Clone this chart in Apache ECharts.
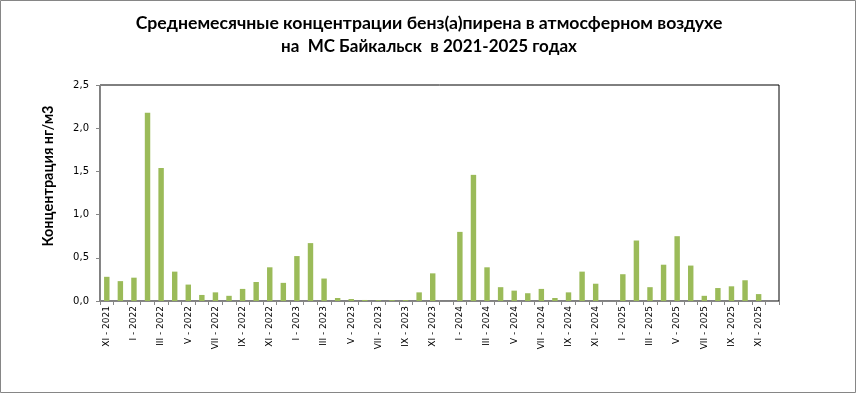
<!DOCTYPE html>
<html><head><meta charset="utf-8">
<script src="https://cdn.jsdelivr.net/npm/echarts@6/dist/echarts.min.js"></script>
<style>html,body{margin:0;padding:0;background:#fff}#c{width:856px;height:393px}</style>
</head><body><div id="c"></div>
<script>
const titleLine1 = 'Среднемесячные концентрации бенз(а)пирена в атмосферном воздухе';
const titleLine2 = 'на  МС Байкальск  в 2021-2025 годах';
const yAxisTitle = 'Концентрация нг/м3';
const categories = [
 'XI - 2021','XII - 2021',
 'I - 2022','II - 2022','III - 2022','IV - 2022','V - 2022','VI - 2022','VII - 2022','VIII - 2022','IX - 2022','X - 2022','XI - 2022','XII - 2022',
 'I - 2023','II - 2023','III - 2023','IV - 2023','V - 2023','VI - 2023','VII - 2023','VIII - 2023','IX - 2023','X - 2023','XI - 2023','XII - 2023',
 'I - 2024','II - 2024','III - 2024','IV - 2024','V - 2024','VI - 2024','VII - 2024','VIII - 2024','IX - 2024','X - 2024','XI - 2024','XII - 2024',
 'I - 2025','II - 2025','III - 2025','IV - 2025','V - 2025','VI - 2025','VII - 2025','VIII - 2025','IX - 2025','X - 2025','XI - 2025','XII - 2025'
];
const values = [
 0.28,0.23,
 0.27,2.18,1.54,0.34,0.19,0.07,0.10,0.06,0.14,0.22,0.39,0.21,
 0.52,0.67,0.26,0.035,0.023,0.012,0.01,0.01,0.01,0.10,0.32,null,
 0.80,1.46,0.39,0.16,0.12,0.09,0.14,0.035,0.10,0.34,0.20,null,
 0.31,0.70,0.16,0.42,0.75,0.41,0.06,0.15,0.17,0.24,0.08,null
];
const yTicks = {min:0, max:2.5, interval:0.5};

const chart = echarts.init(document.getElementById('c'), null, {renderer:'canvas'});
chart.setOption({
  animation:false,
  backgroundColor:'#fff',
  graphic:[
    {type:'rect', shape:{x:0.5,y:0.5,width:855,height:392}, style:{fill:'none',stroke:'#868686',lineWidth:1}, z:-1},
    {type:'text', x:429, y:24, scaleX:1.07, style:{text:titleLine1, align:'center', verticalAlign:'middle', font:'bold 16.5px Lato', fill:'#000'}},
    {type:'text', x:429, y:47, scaleX:1.03, style:{text:titleLine2, align:'center', verticalAlign:'middle', font:'bold 16.5px Lato', fill:'#000'}},
    {type:'text', x:48, y:176, rotation:Math.PI/2, style:{text:yAxisTitle, align:'center', verticalAlign:'middle', font:'bold 14.5px Lato', fill:'#000'}}
  ],
  grid:{left:100, right:77, top:85, bottom:92, show:true, borderColor:'#000', borderWidth:1, backgroundColor:'#fff'},
  xAxis:{
    type:'category', data:categories,
    axisLine:{lineStyle:{color:'#868686', width:1}},
    axisTick:{show:true, interval:0, length:4, lineStyle:{color:'#868686'}},
    axisLabel:{interval:1, rotate:90, fontFamily:'DejaVu Sans', fontSize:9, color:'#000', margin:5}
  },
  yAxis:{
    type:'value', min:yTicks.min, max:yTicks.max, interval:yTicks.interval,
    axisLine:{show:true, lineStyle:{color:'#868686', width:1}},
    axisTick:{show:true, length:4, lineStyle:{color:'#868686'}},
    splitLine:{show:false},
    axisLabel:{fontFamily:'DejaVu Sans', fontSize:10, color:'#000', margin:11,
      formatter:v=>v.toFixed(1).replace('.',',')}
  },
  series:[{type:'bar', data:values, barWidth:'40%', itemStyle:{color:'#9BBB59'}}]
});
</script></body></html>
